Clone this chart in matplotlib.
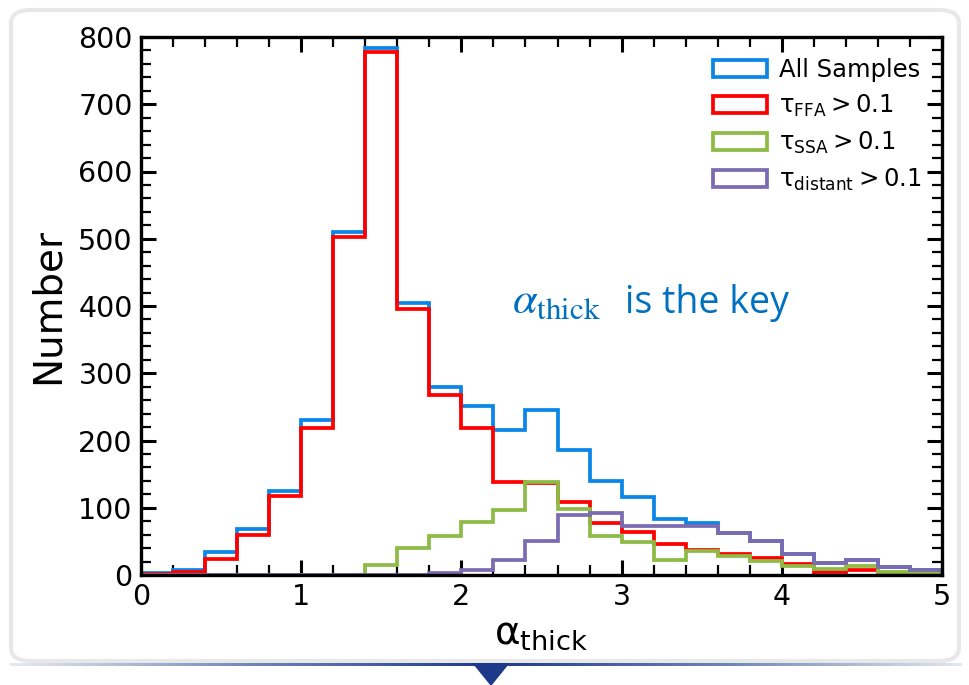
import numpy as np
import matplotlib; matplotlib.use("Agg")
import matplotlib.pyplot as plt
from matplotlib.patches import FancyBboxPatch, Polygon
from matplotlib.colors import LinearSegmentedColormap

# bins of alpha_thick, width 0.2 from 0 to 5
edges = np.round(np.arange(0, 5.01, 0.2), 2)
all_samples = [3, 7, 34, 69, 125, 231, 510, 783, 404, 280, 252, 215, 245,
               186, 140, 116, 83, 77, 62, 51, 31, 18, 22, 12, 7]
tau_ffa = [2, 4, 24, 60, 118, 218, 503, 777, 396, 268, 219, 139, 137,
           109, 78, 64, 46, 37, 31, 26, 17, 5, 7, 3, 3]
tau_ssa = [0, 0, 0, 0, 0, 0, 0, 15, 40, 58, 79, 97, 139,
           98, 58, 49, 23, 35, 28, 21, 13, 9, 13, 5, 4]
tau_distant = [0, 0, 0, 0, 0, 0, 0, 0, 0, 3, 8, 22, 50,
               89, 92, 73, 73, 73, 62, 51, 31, 18, 22, 12, 7]
labels = ["All Samples", r"$\mathregular{\tau_{FFA}>0.1}$",
          r"$\mathregular{\tau_{SSA}>0.1}$", r"$\mathregular{\tau_{distant}>0.1}$"]
colors = ["#0a86e8", "#ff0000", "#8dbb45", "#7b6bb0"]

W, H = 969, 685
fig = plt.figure(figsize=(W / 100, H / 100), dpi=100, facecolor="white")

# card background
card = FancyBboxPatch((11 / W, 24 / H), 948 / W, 651 / H,
                      boxstyle="round,pad=0,rounding_size=0.02",
                      transform=fig.transFigure, facecolor="white",
                      edgecolor="#e8e8e8", lw=3, zorder=-10)
fig.patches.append(card)

# gradient line + triangle under the card
gax = fig.add_axes([10 / W, 1 - 666 / H, 952 / W, 3 / H])
grad = np.abs(np.linspace(-1, 1, 400) - (491 - 486) / 476)
cmap = LinearSegmentedColormap.from_list("g", ["#1d3a8a", "#6f86b8", "#e4e8f0"])
gax.imshow(grad[None, :], aspect="auto", cmap=cmap, vmin=0, vmax=1)
gax.axis("off")
tri = Polygon([(474 / W, 1 - 664 / H), (508 / W, 1 - 664 / H), (491 / W, 1 - 685 / H)],
              closed=True, transform=fig.transFigure, color="#1d3a8a", zorder=5)
fig.patches.append(tri)

ax = fig.add_axes([141 / W, 1 - 575 / H, 801 / W, 538 / H])
ax.set_zorder(2)
for vals, lab, c in zip([all_samples, tau_ffa, tau_ssa, tau_distant], labels, colors):
    ax.hist(edges[:-1], bins=edges, weights=vals, histtype="step",
            color=c, lw=2.7, label=lab)

ax.set_xlim(0, 5)
ax.set_ylim(0, 800)
ax.set_xticks(np.arange(0, 6, 1))
ax.set_xticks(np.arange(0, 5.01, 0.2), minor=True)
ax.set_yticks(np.arange(0, 801, 100))
ax.set_yticks(np.arange(0, 801, 20), minor=True)
ax.tick_params(which="both", direction="in", top=True, right=True, labelsize=20.5)
ax.tick_params(which="major", length=11, width=2.2, pad=6)
ax.tick_params(which="minor", length=7, width=1.6)
for s in ax.spines.values():
    s.set_linewidth(2.4)

ax.set_ylabel("Number", fontsize=28, labelpad=8)
ax.set_xlabel("α$_{\\mathregular{thick}}$", fontsize=28, labelpad=2)

ax.legend(loc="upper right", frameon=False, fontsize=17.5, handlelength=2.2,
          labelspacing=0.45, borderaxespad=0.55, handletextpad=0.5,
          borderpad=0.3)

ax.text(2.316, 390, r"$\alpha_{\mathrm{thick}}$", fontsize=32, color="#0070c0",
        math_fontfamily="stix")
ax.text(3.02, 390, "is the key", fontsize=27, color="#0070c0", family="Open Sans")

fig.savefig("out.png", dpi=100)
